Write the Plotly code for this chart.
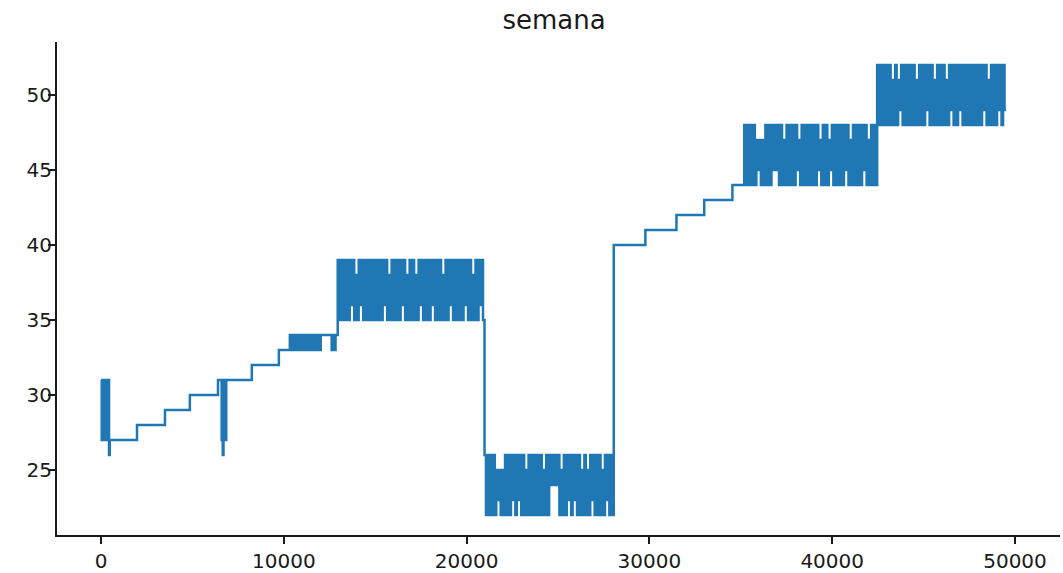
import plotly.graph_objects as go

# ---- Data (row index -> "semana") ----
# Short bursts near the beginning: explicit (index, semana) points
burst_a_idx = [0, 40, 80, 120, 160, 200, 330, 370, 410, 440]
burst_a_val = [31, 27, 31, 27, 31, 27, 31, 27, 31, 26]
burst_b_idx = [6600, 6640, 6660, 6700, 6740, 6790, 6820]
burst_b_val = [27, 31, 26, 31, 27, 31, 27]

# Flat stretches: index where each level begins, and its value
level_start = [480, 1970, 3500, 4860, 6400, 6850, 8250, 9730, 12020, 12620, 12700,
               12740, 12830, 28050, 29780, 31480, 33000, 34540]
level_value = [27, 28, 29, 30, 31, 31, 32, 33, 34, 33, 34,
               33, 34, 40, 41, 42, 43, 44]

# Dense oscillating stretches: (start index, end index), then high / low values
block_c_span = (10330, 12020)
block_c_high = [34, 34, 34, 34, 34, 34, 34, 34, 34, 34]
block_c_low = [33, 33, 33, 33, 33, 33, 33, 33, 33, 33]

block_d_span = (12950, 20980)
block_d_high = [39, 39, 39, 39, 39, 39, 38, 39, 39, 39,
                39, 39, 39, 39, 39, 39, 39, 38, 39, 39,
                39, 39, 39, 38, 39, 39, 38, 39, 39, 39,
                39, 39, 39, 39, 39, 38, 39, 39, 39, 39,
                39, 39, 39, 39, 39, 38, 39, 39, 39]
block_d_low = [35, 35, 35, 35, 36, 35, 35, 36, 35, 35,
               35, 35, 35, 35, 35, 36, 35, 35, 35, 35,
               35, 36, 35, 35, 35, 35, 35, 36, 35, 35,
               35, 36, 35, 35, 35, 35, 35, 36, 35, 35,
               35, 35, 36, 35, 35, 35, 35, 36, 35]

block_e_span = (20980, 28050)
block_e_high = [26, 26, 26, 26, 25, 25, 25, 26, 26, 26,
                26, 26, 26, 26, 25, 26, 26, 26, 26, 26,
                25, 26, 26, 26, 26, 26, 25, 26, 26, 26,
                26, 26, 26, 25, 26, 25, 26, 26, 26, 26,
                25, 26, 26, 26]
block_e_low = [22, 22, 22, 22, 23, 22, 22, 22, 22, 23,
               22, 23, 22, 22, 22, 22, 22, 22, 22, 22,
               22, 22, 24, 24, 24, 22, 22, 22, 23, 22,
               23, 22, 22, 22, 22, 22, 23, 22, 22, 22,
               22, 23, 22, 22]

block_f_span = (35190, 42460)
block_f_high = [48, 48, 48, 48, 47, 47, 47, 48, 48, 48,
                48, 48, 48, 47, 48, 48, 48, 48, 47, 48,
                48, 48, 48, 48, 48, 47, 48, 48, 47, 48,
                48, 48, 48, 48, 48, 47, 48, 48, 48, 48,
                48, 47, 48, 48]
block_f_low = [44, 44, 44, 44, 45, 44, 44, 44, 44, 45,
               45, 44, 44, 44, 44, 44, 44, 45, 44, 44,
               44, 44, 44, 44, 45, 44, 44, 44, 45, 44,
               44, 44, 44, 45, 44, 44, 44, 44, 44, 45,
               44, 44, 44, 44]

block_g_span = (42460, 49510)
block_g_high = [52, 52, 52, 52, 52, 51, 52, 51, 52, 52,
                52, 52, 52, 51, 52, 52, 52, 52, 52, 51,
                52, 52, 52, 51, 52, 52, 52, 52, 52, 52,
                52, 52, 52, 52, 52, 52, 52, 51, 52, 52,
                52, 52, 52]
block_g_low = [48, 48, 48, 48, 48, 48, 48, 49, 48, 48,
               48, 48, 48, 48, 48, 48, 49, 48, 48, 48,
               48, 48, 48, 48, 49, 48, 48, 49, 48, 48,
               48, 48, 48, 48, 48, 49, 48, 48, 48, 48,
               49, 48, 49]

x_ticks = [0, 10000, 20000, 30000, 40000, 50000]
y_ticks = [25, 30, 35, 40, 45, 50]

# ---- Assemble the step series ----
pts = []
pts += list(zip(burst_a_idx, burst_a_val))
pts += list(zip(burst_b_idx, burst_b_val))
pts += list(zip(level_start, level_value))


def add_block(span, highs, lows):
    s, e = span
    vals = []
    for h, l in zip(highs, lows):
        vals += [h, l]
    d = (e - s) / len(vals)
    return [(s + j * d, v) for j, v in enumerate(vals)], vals[-1]


last = None
for span, hi, lo in [(block_c_span, block_c_high, block_c_low),
                     (block_d_span, block_d_high, block_d_low),
                     (block_e_span, block_e_high, block_e_low),
                     (block_f_span, block_f_high, block_f_low),
                     (block_g_span, block_g_high, block_g_low)]:
    p, last = add_block(span, hi, lo)
    pts += p
pts.append((block_g_span[1], last))
pts.sort(key=lambda t: t[0])
xs = [p[0] for p in pts]
ys = [p[1] for p in pts]

fig = go.Figure()
fig.add_trace(go.Scatter(
    x=xs, y=ys, mode="lines",
    line=dict(color="#1f77b4", width=2.5, shape="hv", simplify=False),
    hoverinfo="skip", showlegend=False,
))

W, H = 1063, 573
axis_font = dict(family="DejaVu Sans", size=20, color="#1a1a1a")
fig.update_layout(
    width=W, height=H,
    margin=dict(l=57, r=3, t=42, b=38, autoexpand=False),
    paper_bgcolor="white", plot_bgcolor="white",
    title=dict(text="semana", x=554 / W, xref="container", xanchor="center",
               y=1 - 20 / H, yref="container", yanchor="middle", automargin=False,
               font=dict(family="DejaVu Sans", size=26, color="#1a1a1a")),
    xaxis=dict(range=[-2407, 52462], tickvals=x_ticks, tickformat="d",
               automargin=False,
               showgrid=False, zeroline=False, showline=True, linecolor="#1a1a1a",
               linewidth=2, ticks="outside", ticklen=7, tickwidth=2,
               tickcolor="#1a1a1a", tickfont=axis_font),
    yaxis=dict(range=[20.667, 53.53], tickvals=y_ticks,
               automargin=False, ticklabelstandoff=-8,
               showgrid=False, zeroline=False, showline=True, linecolor="#1a1a1a",
               linewidth=2, ticks="outside", ticklen=7, tickwidth=2,
               tickcolor="#1a1a1a", tickfont=axis_font),
)

# Remove the default page margin so the figure fills the window exactly.
fig.write_html("out.html",
               config={"displayModeBar": False},
               post_script="document.body.style.margin='0';document.body.style.overflow='hidden';")
